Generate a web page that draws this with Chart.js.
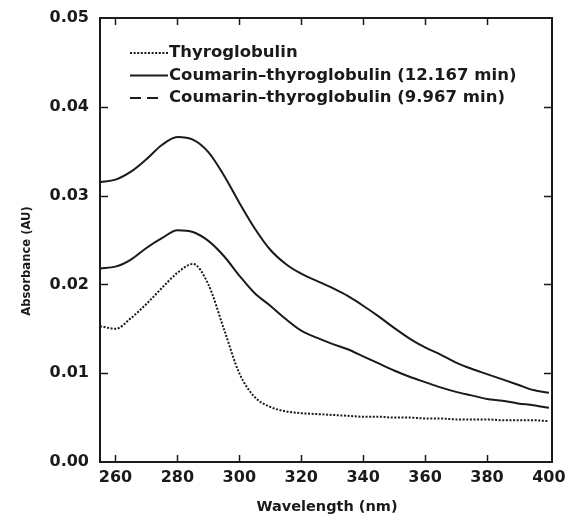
<!DOCTYPE html>
<html>
<head>
<meta charset="utf-8">
<script src="https://cdn.jsdelivr.net/npm/chart.js@4/dist/chart.umd.min.js"></script>
<style>
  html, body { margin: 0; padding: 0; background: #fff; }
  #wrap { width: 569px; height: 525px; position: relative; }
</style>
</head>
<body>
<div id="wrap"><canvas id="myChart"></canvas></div>
<script>
// wavelength grid (nm) and absorbance (AU)
const wavelengths = [255, 260, 265, 270, 275, 280, 285, 290, 295, 300, 305, 310, 315, 320, 325,
    330, 335, 340, 345, 350, 355, 360, 365, 370, 375, 380, 385, 390, 395, 400];

const thyroglobulin = [0.0153, 0.0150, 0.0162, 0.0178, 0.0196, 0.0213, 0.0223, 0.0200, 0.0150, 0.0100,
    0.0073, 0.0062, 0.0057, 0.0055, 0.0054, 0.0053, 0.0052, 0.0051, 0.0051, 0.0050,
    0.0050, 0.0049, 0.0049, 0.0048, 0.0048, 0.0048, 0.0047, 0.0047, 0.0047, 0.0046];

const coumarin12167 = [0.0218, 0.0220, 0.0228, 0.0241, 0.0252, 0.0261, 0.0259, 0.0249, 0.0232, 0.0210,
    0.0190, 0.0176, 0.0161, 0.0148, 0.0140, 0.0133, 0.0127, 0.0119, 0.0111, 0.0103,
    0.0096, 0.0090, 0.0084, 0.0079, 0.0075, 0.0071, 0.0069, 0.0066, 0.0064, 0.0061];

const coumarin9967 = [0.0315, 0.0318, 0.0327, 0.0341, 0.0357, 0.0366, 0.0363, 0.0349, 0.0323, 0.0292,
    0.0263, 0.0239, 0.0223, 0.0212, 0.0204, 0.0196, 0.0187, 0.0176, 0.0164, 0.0151,
    0.0139, 0.0129, 0.0121, 0.0112, 0.0105, 0.0099, 0.0093, 0.0087, 0.0081, 0.0078];

const xTicks = [260, 280, 300, 320, 340, 360, 380, 400];
const yTicks = [0.00, 0.01, 0.02, 0.03, 0.04, 0.05];

const ink = '#1a1a1a';
const fontFamily = '"DejaVu Sans", "Liberation Sans", sans-serif';

function points(values) {
    return values.map((v, i) => ({ x: wavelengths[i], y: v }));
}

// frame, inward ticks on all four sides, axis titles and the legend inside the plot
const framePlugin = {
    id: 'frame',
    afterDraw(chart) {
        const ctx = chart.ctx;
        const area = chart.chartArea;
        const xs = chart.scales.x;
        const ys = chart.scales.y;
        ctx.save();
        ctx.strokeStyle = ink;
        ctx.lineWidth = 2;
        ctx.strokeRect(area.left, area.top, area.right - area.left, area.bottom - area.top);

        ctx.lineWidth = 1.5;
        const len = 7;
        ctx.beginPath();
        xTicks.forEach(v => {
            const px = Math.round(xs.getPixelForValue(v)) + 0.5;
            if (px - area.left < 5 || area.right - px < 5) return;
            ctx.moveTo(px, area.bottom); ctx.lineTo(px, area.bottom - len);
            ctx.moveTo(px, area.top); ctx.lineTo(px, area.top + len);
        });
        yTicks.forEach(v => {
            const py = Math.round(ys.getPixelForValue(v)) + 0.5;
            if (py - area.top < 5 || area.bottom - py < 5) return;
            ctx.moveTo(area.left, py); ctx.lineTo(area.left + len + 1, py);
            ctx.moveTo(area.right, py); ctx.lineTo(area.right - len - 1, py);
        });
        ctx.stroke();

        // axis titles
        ctx.fillStyle = ink;
        ctx.textAlign = 'center';
        ctx.textBaseline = 'middle';
        ctx.font = 'bold 14.5px ' + fontFamily;
        ctx.fillText('Wavelength (nm)', 327, 507);
        ctx.save();
        ctx.translate(27, 261);
        ctx.rotate(-Math.PI / 2);
        ctx.font = 'bold 11.6px ' + fontFamily;
        ctx.fillText('Absorbance (AU)', 0, 0);
        ctx.restore();

        // legend
        const lx = area.left + 30;
        const sample = 38;
        ctx.font = 'bold 16.5px ' + fontFamily;
        ctx.textAlign = 'left';
        chart.data.datasets.forEach((ds, i) => {
            const ly = area.top + 35 + i * 22.5;
            ctx.beginPath();
            ctx.lineWidth = 2;
            ctx.setLineDash(ds.legendDash || []);
            ctx.moveTo(lx, ly);
            ctx.lineTo(lx + (ds.legendLen || sample), ly);
            ctx.stroke();
            ctx.setLineDash([]);
            ctx.fillText(ds.label, lx + sample + 1, ly);
        });
        ctx.restore();
    }
};

const ctx = document.getElementById('myChart').getContext('2d');
const myChart = new Chart(ctx, {
    type: 'line',
    data: {
        datasets: [
            {
                label: 'Thyroglobulin',
                data: points(thyroglobulin),
                borderColor: ink,
                borderWidth: 2,
                borderDash: [2, 1.6],
                legendDash: [2, 1.6],
                pointRadius: 0,
                cubicInterpolationMode: 'monotone'
            },
            {
                label: 'Coumarin\u2013thyroglobulin (12.167 min)',
                data: points(coumarin12167),
                borderColor: ink,
                borderWidth: 2,
                pointRadius: 0,
                cubicInterpolationMode: 'monotone'
            },
            {
                // long dashes in the figure read as a continuous trace
                label: 'Coumarin\u2013thyroglobulin (9.967 min)',
                data: points(coumarin9967),
                borderColor: ink,
                borderWidth: 2,
                legendDash: [11, 6],
                legendLen: 28,
                pointRadius: 0,
                cubicInterpolationMode: 'monotone'
            }
        ]
    },
    options: {
        responsive: true,
        maintainAspectRatio: false,
        animation: false,
        layout: { padding: { top: 18, right: 17, left: 0, bottom: 0 } },
        plugins: {
            legend: { display: false },
            tooltip: { enabled: false }
        },
        scales: {
            x: {
                type: 'linear',
                min: 255,
                max: 401,
                afterBuildTicks: scale => { scale.ticks = xTicks.map(v => ({ value: v })); },
                afterFit: scale => {
                    scale.height = 63;
                    scale.paddingLeft = 0;
                    scale.paddingRight = 0;
                },
                grid: { display: false, drawTicks: false },
                border: { display: false },
                ticks: {
                    color: ink,
                    padding: 6,
                    maxRotation: 0,
                    autoSkip: false,
                    font: { family: fontFamily, size: 16, weight: 'bold' },
                    callback: v => String(v)
                }
            },
            y: {
                min: 0,
                max: 0.05,
                afterBuildTicks: scale => { scale.ticks = yTicks.map(v => ({ value: v })); },
                afterFit: scale => {
                    scale.width = 100;
                    scale.paddingTop = 0;
                    scale.paddingBottom = 0;
                },
                grid: { display: false, drawTicks: false },
                border: { display: false },
                ticks: {
                    color: ink,
                    padding: 11,
                    font: { family: fontFamily, size: 16, weight: 'bold' },
                    callback: v => Number(v).toFixed(2)
                }
            }
        }
    },
    plugins: [framePlugin]
});
</script>
</body>
</html>
